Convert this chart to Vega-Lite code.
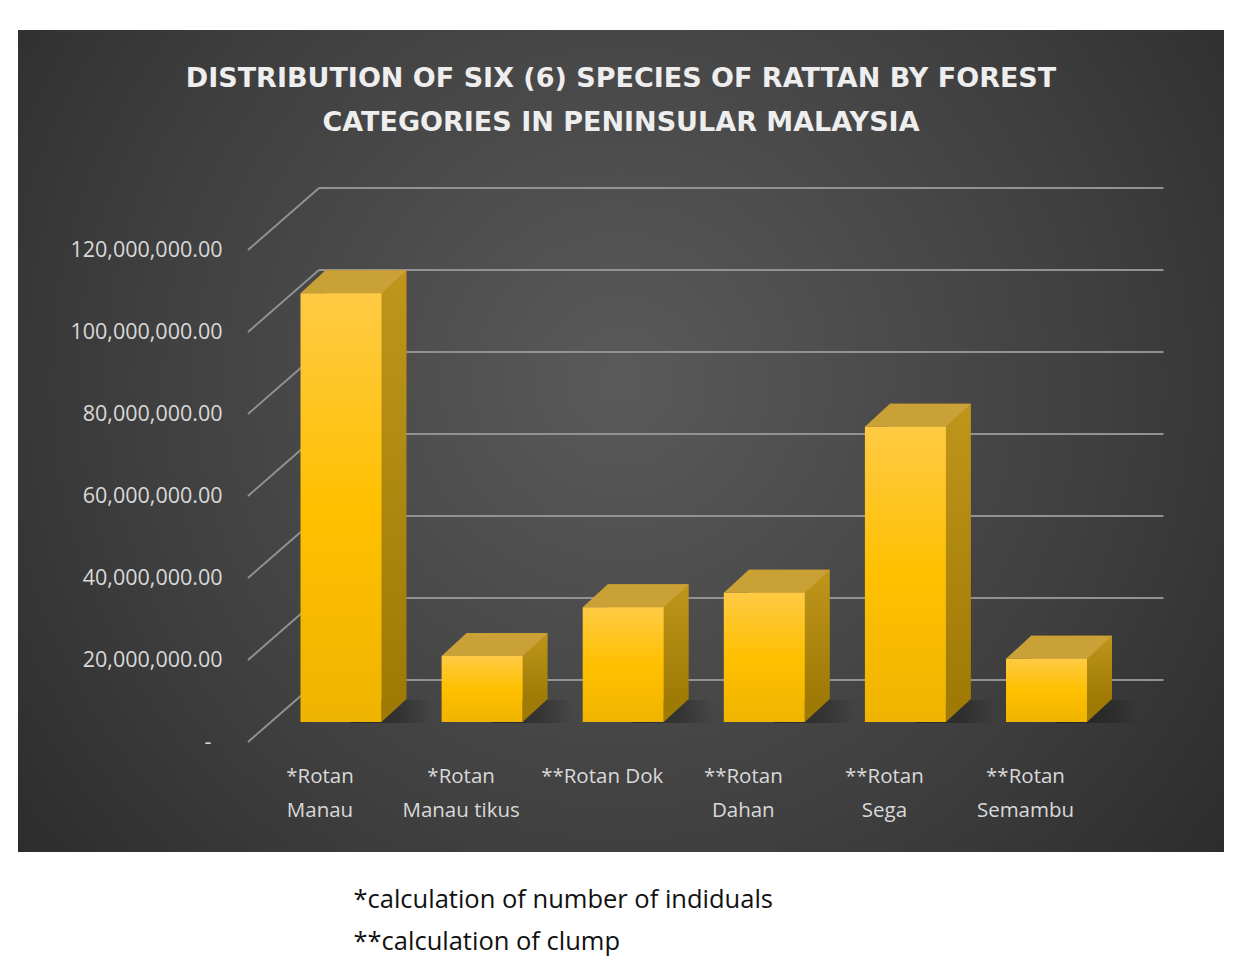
{
  "$schema": "https://vega.github.io/schema/vega-lite/v6.json",
  "width": 1206,
  "height": 822,
  "autosize": {"type": "none"},
  "padding": {"left": 18, "top": 30, "right": 17, "bottom": 117},
  "background": "#ffffff",
  "config": {
    "view": {
      "stroke": null,
      "fill": {"gradient": "radial", "x1": 0.5, "y1": 0.45, "r1": 0, "x2": 0.5, "y2": 0.45, "r2": 0.75,
        "stops": [{"offset": 0, "color": "#5a5a5a"}, {"offset": 0.55, "color": "#3e3e3e"}, {"offset": 1, "color": "#232323"}]}
    }
  },
  "title": {
    "text": ["DISTRIBUTION OF SIX (6) SPECIES OF RATTAN BY FOREST", "CATEGORIES IN PENINSULAR MALAYSIA"],
    "anchor": "middle",
    "frame": "group",
    "offset": -107,
    "baseline": "top",
    "font": "DejaVu Sans",
    "fontSize": 27,
    "fontWeight": "bold",
    "color": "#eeeeee",
    "lineHeight": 44
  },
  "datasets": {
    "bars": [
      {"species": "*Rotan Manau", "value": 104600000},
      {"species": "*Rotan Manau tikus", "value": 16100000},
      {"species": "**Rotan Dok", "value": 28000000},
      {"species": "**Rotan Dahan", "value": 31500000},
      {"species": "**Rotan Sega", "value": 72000000},
      {"species": "**Rotan Semambu", "value": 15400000}
    ],
    "ticks": [
      {"v": 0}, {"v": 20000000}, {"v": 40000000}, {"v": 60000000},
      {"v": 80000000}, {"v": 100000000}, {"v": 120000000}
    ]
  },
  "encoding": {
    "x": {
      "field": "species",
      "type": "nominal",
      "sort": null,
      "scale": {
        "domain": ["*Rotan Manau", "*Rotan Manau tikus", "**Rotan Dok", "**Rotan Dahan", "**Rotan Sega", "**Rotan Semambu"],
        "range": [252.45, 1099.05],
        "paddingInner": 0.426,
        "paddingOuter": 0.213
      },
      "axis": {
        "orient": "bottom",
        "offset": -86,
        "domain": false,
        "ticks": false,
        "grid": false,
        "labelPadding": 0,
        "labelAngle": 0,
        "labelAlign": "center",
        "labelBaseline": "top",
        "labelOffset": -21,
        "labelLineHeight": 34,
        "labelFont": "Open Sans",
        "labelFontSize": 20.5,
        "labelColor": "#d9d9d9",
        "labelLimit": 0,
        "labelOverlap": false,
        "labelExpr": "indexof(datum.label, 'Dok') >= 0 ? datum.label : [slice(datum.label, 0, indexof(datum.label, ' ')), slice(datum.label, indexof(datum.label, ' ') + 1)]",
        "title": ["*calculation of number of indiduals", "**calculation of clump"],
        "titleX": 335,
        "titleY": 141,
        "titleAlign": "left",
        "titleAnchor": null,
        "titleBaseline": "alphabetic",
        "titleFont": "Open Sans",
        "titleFontSize": 25.5,
        "titleFontWeight": "normal",
        "titleColor": "#111111",
        "titleLineHeight": 42
      }
    },
    "y": {
      "type": "quantitative",
      "scale": {"domain": [-31707317, 168780488], "nice": false, "zero": false}
    }
  },
  "layer": [
    {
      "data": {"name": "ticks"},
      "mark": {"type": "rule", "color": "#929292", "strokeWidth": 2, "yOffset": -42, "xOffset": -22, "x2Offset": 117},
      "encoding": {
        "x": {"datum": "*Rotan Manau", "type": "nominal"},
        "x2": {"datum": "**Rotan Semambu"},
        "y": {"field": "v", "type": "quantitative",
          "axis": {
            "orient": "left",
            "offset": -204,
            "domain": false,
            "ticks": false,
            "grid": false,
            "labelPadding": 0,
            "labelOffset": 20,
            "labelAlign": "right",
            "labelBaseline": "middle",
            "labelFont": "Open Sans",
            "labelFontSize": 21.5,
            "labelColor": "#d9d9d9",
            "values": [0, 20000000, 40000000, 60000000, 80000000, 100000000, 120000000],
            "labelExpr": "datum.value === 0 ? '-\u00a0\u00a0\u200b' : format(datum.value, ',.2f')",
            "title": null
          }
        }
      }
    },
    {
      "data": {"name": "ticks"},
      "mark": {"type": "rule", "color": "#929292", "strokeWidth": 2, "xOffset": -93, "x2Offset": -22, "yOffset": 20, "y2Offset": -42},
      "encoding": {
        "x": {"datum": "*Rotan Manau", "type": "nominal"},
        "x2": {"datum": "*Rotan Manau"},
        "y": {"field": "v", "type": "quantitative"},
        "y2": {"field": "v"}
      }
    },
    {
      "data": {"name": "bars"},
      "mark": {"type": "bar", "xOffset": 50, "x2Offset": 50, "yOffset": -22, "y2Offset": 1,
        "color": {"gradient": "linear", "x1": 0, "y1": 0, "x2": 1, "y2": 0,
          "stops": [{"offset": 0, "color": "rgba(0,0,0,0.4)"}, {"offset": 0.6, "color": "rgba(0,0,0,0.25)"}, {"offset": 1, "color": "rgba(0,0,0,0)"}]}},
      "encoding": {
        "x": {"field": "species"},
        "y": {"datum": 0},
        "y2": {"datum": 0}
      }
    },
    {
      "data": {"name": "bars"},
      "mark": {"type": "bar", "xOffset": 25, "x2Offset": 25, "yOffset": -23, "y2Offset": -23,
        "color": {"gradient": "linear", "x1": 0, "y1": 0, "x2": 0, "y2": 1,
          "stops": [{"offset": 0, "color": "#bf961b"}, {"offset": 1, "color": "#9f7a05"}]}},
      "encoding": {
        "x": {"field": "species"},
        "y": {"field": "value"}
      }
    },
    {
      "data": {"name": "bars"},
      "mark": {"type": "point", "shape": "M 40.5 -23 L 40.5 0 L 65.5 -23 Z", "size": 4, "filled": true, "opacity": 1, "strokeWidth": 0, "color": "#9f7a05"},
      "encoding": {
        "x": {"field": "species"},
        "y": {"datum": 0}
      }
    },
    {
      "data": {"name": "bars"},
      "mark": {"type": "point", "shape": "M -40.5 0 L 40.5 0 L 65.5 -23 L -15.5 -23 Z", "size": 4, "filled": true, "opacity": 1, "strokeWidth": 0, "color": "#caa137"},
      "encoding": {
        "x": {"field": "species"},
        "y": {"field": "value"}
      }
    },
    {
      "data": {"name": "bars"},
      "mark": {"type": "bar",
        "color": {"gradient": "linear", "x1": 0, "y1": 0, "x2": 0, "y2": 1,
          "stops": [{"offset": 0, "color": "#ffca44"}, {"offset": 0.5, "color": "#ffc000"}, {"offset": 1, "color": "#efb400"}]}},
      "encoding": {
        "x": {"field": "species"},
        "y": {"field": "value"}
      }
    }
  ]
}
